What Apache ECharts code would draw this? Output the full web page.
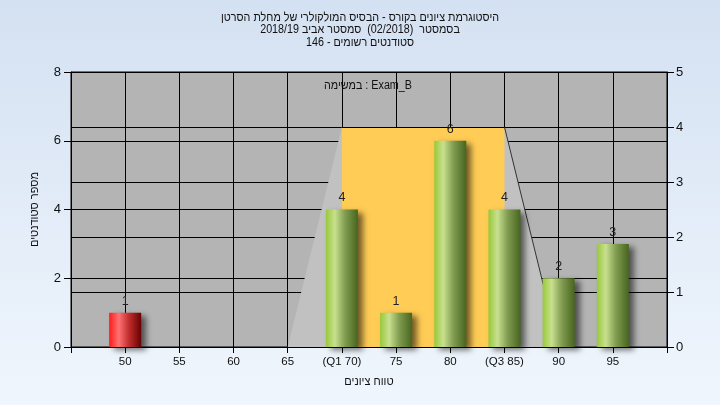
<!DOCTYPE html>
<html>
<head>
<meta charset="utf-8">
<script src="https://cdn.jsdelivr.net/npm/echarts@6/dist/echarts.min.js"></script>
<style>
html,body{margin:0;padding:0;}
#chart{width:720px;height:405px;}
</style>
</head>
<body>
<div id="chart"></div>
<script>
// ---- data ----
var titleLines = [
  'היסטוגרמת ציונים בקורס - הבסיס המולקולרי של מחלת הסרטן',
  'בסמסטר  (02/2018)  סמסטר אביב 2018/19',
  'סטודנטים רשומים - 146'
];
var examLabel = 'במשימה : Exam_B';
var xAxisTitle = 'טווח ציונים';
var yAxisTitle = 'מספר סטודנטים';
var xTickValues = [50, 55, 60, 65, 70, 75, 80, 85, 90, 95];
var xTickLabels = ['50', '55', '60', '65', '(Q1 70)', '75', '80', '(Q3 85)', '90', '95'];
var barGrades = [50, 70, 75, 80, 85, 90, 95];
var barCounts = [1, 4, 1, 6, 4, 2, 3];
var passGrade = 55;
// box: [min, Q1, Q3, max] on grade axis, height on right axis
var boxGrades = [65, 70, 85, 90];
var boxHeight = 4;

// ---- chart ----
var FONT = "'Liberation Sans',Arial,sans-serif";
function rtl(s){ return '\u2067' + s + '\u2069'; }

var greenGrad = {type:'linear', x:0, y:0, x2:1, y2:0, colorStops:[
  {offset:0, color:'#97c93a'}, {offset:0.28, color:'#c8e08f'},
  {offset:0.6, color:'#809c50'}, {offset:1, color:'#48651f'}]};
var redGrad = {type:'linear', x:0, y:0, x2:1, y2:0, colorStops:[
  {offset:0, color:'#ff1a1a'}, {offset:0.3, color:'#ff7272'},
  {offset:0.6, color:'#c43030'}, {offset:1, color:'#680000'}]};

var barData = barGrades.map(function(g, i){
  return {value:[g, barCounts[i]], itemStyle:{color: g < passGrade ? redGrad : greenGrad}};
});

var labelMap = {};
xTickValues.forEach(function(v, i){ labelMap[v] = xTickLabels[i]; });

function textEl(str, x, y, size, sx){
  return {type:'text', x:x, y:y, scaleX:sx, silent:true,
    style:{text:str, fontFamily:FONT, fontSize:size, fill:'#111',
           align:'center', verticalAlign:'middle'}};
}
var titleY = [17.5, 30, 42.5];
var graphics = titleLines.map(function(s, i){ return textEl(rtl(s), 360, titleY[i], 12.5, 0.86); });
graphics.push(textEl(examLabel, 368, 86, 12.5, 0.86));

var chart = echarts.init(document.getElementById('chart'), null, {renderer:'canvas'});
chart.setOption({
  animation:false,
  backgroundColor:{type:'linear', x:0, y:0, x2:0, y2:1, colorStops:[
    {offset:0, color:'#d4e1f2'}, {offset:1, color:'#f0f6fd'}]},
  textStyle:{fontFamily:FONT},
  graphic:{elements:graphics},
  grid:{left:71, right:53, top:72, bottom:58, show:true, backgroundColor:'#b4b4b4',
        borderColor:'#000', borderWidth:1},
  xAxis:{type:'value', min:45, max:100, interval:5,
    name:xAxisTitle, nameLocation:'middle', nameGap:29,
    nameTextStyle:{fontFamily:FONT, fontSize:11, color:'#111'},
    axisLine:{show:true, lineStyle:{color:'#000'}},
    axisTick:{show:true, length:6, lineStyle:{color:'#000'}},
    axisLabel:{margin:9, fontFamily:FONT, fontSize:11.5, color:'#111',
      formatter:function(v){ return labelMap[v] || ''; }},
    splitLine:{show:true, lineStyle:{color:'#000', width:1}}
  },
  yAxis:[
    {type:'value', min:0, max:8, interval:2, position:'left',
     name:yAxisTitle, nameLocation:'middle', nameGap:31, nameRotate:90,
     nameTextStyle:{fontFamily:FONT, fontSize:11, color:'#111'},
     axisLine:{show:true, lineStyle:{color:'#000'}},
     axisTick:{show:true, length:7, lineStyle:{color:'#000'}},
     axisLabel:{margin:10, fontFamily:FONT, fontSize:13, color:'#111'},
     splitLine:{show:true, lineStyle:{color:'#000', width:1}}
    },
    {type:'value', min:0, max:5, interval:1, position:'right',
     axisLine:{show:true, lineStyle:{color:'#000'}},
     axisTick:{show:true, length:7, lineStyle:{color:'#000'}},
     axisLabel:{margin:9, fontFamily:FONT, fontSize:13, color:'#111'},
     splitLine:{show:true, lineStyle:{color:'#000', width:1}}
    }
  ],
  series:[
    {type:'custom', yAxisIndex:1, z:1, silent:true,
     data:[[boxGrades[0], boxGrades[1], boxGrades[2], boxGrades[3], boxHeight]],
     encode:{x:[0,1,2,3], y:4},
     renderItem:function(params, api){
       var p0 = api.coord([api.value(0), 0]);
       var p1 = api.coord([api.value(1), api.value(4)]);
       var p2 = api.coord([api.value(2), api.value(4)]);
       var p3 = api.coord([api.value(3), 0]);
       var q1 = api.coord([api.value(1), 0]);
       var q3 = api.coord([api.value(2), 0]);
       return {type:'group', children:[
         {type:'polygon', shape:{points:[p0, p1, p2, p3]}, style:{fill:'#c1c1c1'}},
         {type:'polygon', shape:{points:[q1, p1, p2, q3]}, style:{fill:'#ffcc55'}},
         {type:'line', shape:{x1:p2[0], y1:p2[1], x2:p3[0], y2:p3[1]}, style:{stroke:'#333', lineWidth:1}},
         {type:'line', shape:{x1:p1[0], y1:p1[1]+0.5, x2:p2[0], y2:p2[1]+0.5}, style:{stroke:'#000', lineWidth:1}}
       ]};
     }
    },
    {type:'bar', yAxisIndex:0, z:3, barWidth:32, data:barData,
     itemStyle:{shadowColor:'rgba(0,0,0,0.55)', shadowBlur:6, shadowOffsetX:5, shadowOffsetY:3},
     label:{show:true, position:'top', distance:5, fontFamily:FONT, fontSize:12.5, color:'#222',
       formatter:function(p){ return p.value[1]; }}
    }
  ]
});
</script>
</body>
</html>
